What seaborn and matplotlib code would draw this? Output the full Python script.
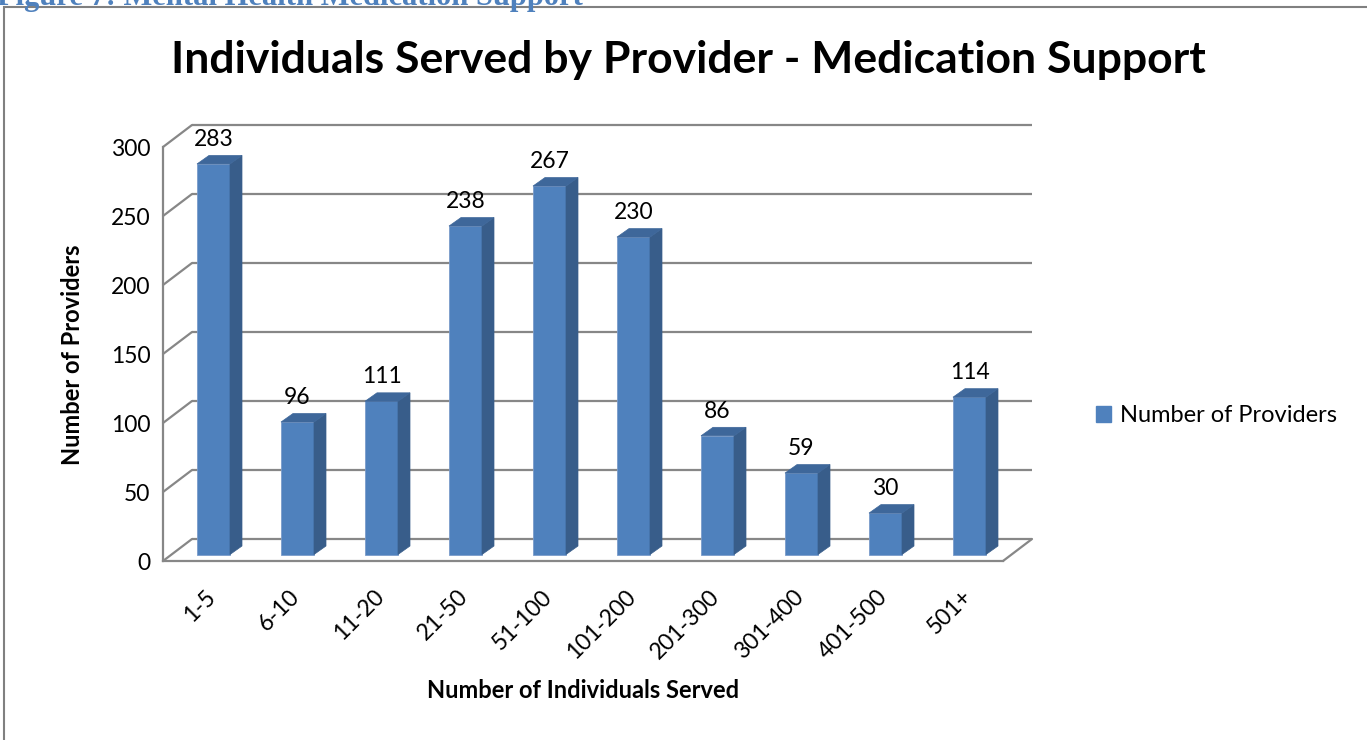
import matplotlib
matplotlib.use("Agg")
import matplotlib.pyplot as plt
import seaborn as sns
import pandas as pd
from matplotlib.patches import Polygon, Patch, Rectangle

categories = ["1-5", "6-10", "11-20", "21-50", "51-100", "101-200",
              "201-300", "301-400", "401-500", "501+"]
providers = [283, 96, 111, 238, 267, 230, 86, 59, 30, 114]
y_ticks = [0, 50, 100, 150, 200, 250, 300]
series_name = "Number of Providers"
title = "Individuals Served by Provider - Medication Support"
header = "Figure 7: Mental Health Medication Support"
x_label = "Number of Individuals Served"
y_label = "Number of Providers"

sns.set_theme(style="white")
plt.rcParams["font.family"] = ["Lato", "DejaVu Sans"]
plt.rcParams["text.color"] = "black"
plt.rcParams["xtick.color"] = "black"
plt.rcParams["ytick.color"] = "black"

W, H, DPI = 1367, 740, 100
fig = plt.figure(figsize=(W / DPI, H / DPI), dpi=DPI)

# front plane of the 3D box (pixels)
left_px, right_px, y0_px, ytop_px = 163, 1003, 561, 147
ax = fig.add_axes([left_px / W, 1 - y0_px / H, (right_px - left_px) / W, (y0_px - ytop_px) / H])
ax.set_xlim(-0.5, len(categories) - 0.5)
ax.set_ylim(0, 300)
ppx = (right_px - left_px) / len(categories)   # pixels per category
ppy = (y0_px - ytop_px) / 300.0                 # pixels per unit

def dx(p):
    return p / ppx

def dy(p):
    return p / ppy

grid_c = "#878787"
# back wall offset
bx, by = dx(29), dy(22)
for v in y_ticks:
    ax.plot([-0.5 + bx, len(categories) - 0.5 + bx], [v + by, v + by], color=grid_c, lw=1.6,
            clip_on=False, zorder=1, solid_capstyle="butt")
    ax.plot([-0.5, -0.5 + bx], [v, v + by], color=grid_c, lw=1.6, clip_on=False, zorder=1)
ax.plot([len(categories) - 0.5, len(categories) - 0.5 + bx], [0, by], color=grid_c, lw=1.6,
        clip_on=False, zorder=1)

df = pd.DataFrame({"cat": categories, "val": providers})
bw = 33 / ppx
sns.barplot(data=df, x="cat", y="val", color="#4F81BD", width=bw, saturation=1,
            ax=ax, zorder=3)
ox, oy = dx(8.5), dy(6.5)
sx, sy = dx(12), dy(8.5)
front_c, side_c, top_c = "#4F81BD", "#385D8A", "#3E679A"
for i, (p, v) in enumerate(zip(ax.patches, providers)):
    x0 = p.get_x() + ox
    p.set_x(x0)
    p.set_y(oy)
    p.set_height(v)
    p.set_edgecolor("#7A9CCB")
    p.set_linewidth(0.6)
    p.set_clip_on(False)
    x1 = x0 + bw
    side = Polygon([(x1, oy), (x1 + sx, oy + sy), (x1 + sx, oy + v + sy), (x1, oy + v)],
                   closed=True, facecolor=side_c, edgecolor=side_c, lw=0.5, zorder=3, clip_on=False)
    top = Polygon([(x0, oy + v), (x0 + sx, oy + v + sy), (x1 + sx, oy + v + sy), (x1, oy + v)],
                  closed=True, facecolor=top_c, edgecolor=top_c, lw=0.5, zorder=3, clip_on=False)
    ax.add_patch(side)
    ax.add_patch(top)
    ax.annotate(str(v), (x0 + bw / 2, oy + v), xytext=(0, 10), textcoords="offset points",
                ha="center", va="bottom", fontsize=16.5, color="black", zorder=5)

for s in ["top", "right"]:
    ax.spines[s].set_visible(False)
for s in ["left", "bottom"]:
    ax.spines[s].set_color(grid_c)
    ax.spines[s].set_linewidth(1.6)
ax.set_yticks(y_ticks)
ax.set_yticklabels([str(t) for t in y_ticks], fontsize=16.5)
ax.tick_params(axis="y", direction="out", length=6, width=1.6, color=grid_c, pad=3)
ax.set_xticks([i - 0.5 for i in range(len(categories) + 1)])
ax.set_xticklabels([])
ax.tick_params(axis="x", which="major", direction="out", length=7, width=1.6, color=grid_c)
ax.set_xticks(range(len(categories)), minor=True)
ax.set_xticklabels(categories, minor=True, rotation=45, ha="right", rotation_mode="anchor",
                   fontsize=16.5)
ax.tick_params(axis="x", which="minor", length=0, pad=18)
ax.set_xlabel("")
ax.set_ylabel("")
ax.grid(False)

fig.text(72 / W, 1 - 355 / H, y_label, rotation=90, ha="center", va="center",
         fontsize=17, fontweight="bold")
fig.text(583 / W, 1 - 690 / H, x_label, ha="center", va="center", fontsize=17, fontweight="bold")
fig.text(688 / W, 1 - 60 / H, title, ha="center", va="center", fontsize=32, fontweight="bold")
fig.text(-3 / W, 1 - 5 / H, header, ha="left", va="baseline", fontsize=22, fontweight="bold",
         color="#4F81BD", family=["Liberation Serif", "DejaVu Serif"])

# chart border
fig.patches.append(Rectangle((4 / W, -0.05), 1.1, 1 - 7 / H + 0.05, transform=fig.transFigure,
                             fill=False, edgecolor="#808080", lw=1.5, zorder=0))

leg = fig.legend(handles=[Patch(facecolor="#4F81BD", edgecolor="#4F81BD", label=series_name)],
                 loc="center left", bbox_to_anchor=(1096 / W, 1 - 416 / H), frameon=False,
                 borderpad=0, borderaxespad=0,
                 fontsize=17, handlelength=0.65, handleheight=0.65, handletextpad=0.35)

fig.savefig("out.png", dpi=DPI)
